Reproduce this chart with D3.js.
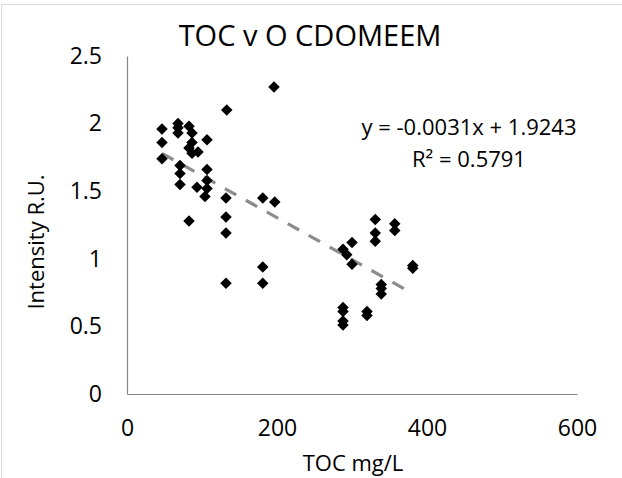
<!DOCTYPE html>
<html><head><meta charset="utf-8">
<script src="https://cdn.jsdelivr.net/npm/d3@7"></script>
<style>body{margin:0;background:#fff}svg{display:block}text{font-family:"Open Sans",sans-serif;fill:#000}</style>
</head><body><svg id="c" width="622" height="478"></svg>
<script>
const tocValues = [46.7,46.7,46.7,68,68,68,82.7,86.7,86.7,82.7,86.7,94.7,106.7,70.7,70.7,70.7,93.3,106.7,106.7,106.7,104,132,133,82.7,132,132,132,181,197,196,181,181,
  331,331,331,357,357,288,300,293,300,381,381,339,339,339,288,288,288,288,320,320];
const intensityValues = [1.96,1.86,1.74,2.00,1.97,1.93,1.98,1.93,1.86,1.82,1.78,1.79,1.88,1.69,1.63,1.55,1.53,1.66,1.58,1.52,1.46,1.45,2.10,1.28,1.31,1.19,0.82,1.45,1.42,2.27,0.94,0.82,
  1.29,1.19,1.13,1.26,1.21,1.07,1.12,1.03,0.96,0.95,0.93,0.81,0.78,0.74,0.64,0.61,0.54,0.51,0.61,0.58];
const xTicks = [0,200,400,600];
const yTicks = [0,0.5,1,1.5,2,2.5];
const trendSlope = -0.0031, trendIntercept = 1.9243, rSquared = 0.5791;
const titleText = "TOC v O CDOMEEM", xTitle = "TOC mg/L", yTitle = "Intensity R.U.";

const svg = d3.select("#c");
// outer chart border
svg.append("path").attr("d","M1.5,478V4.5H622").attr("fill","none").attr("stroke","#d9d9d9");

const x = d3.scaleLinear().domain([0,600]).range([127,577]);
const y = d3.scaleLinear().domain([0,2.5]).range([394,56]);

const xa = svg.append("g").attr("transform","translate(0,394)")
  .call(d3.axisBottom(x).tickValues(xTicks).tickSize(0).tickPadding(26).tickFormat(d3.format("d")));
xa.select(".domain").attr("stroke","#868686").attr("stroke-width",1.2);
xa.selectAll("text").attr("font-size",23).attr("font-family","Open Sans").attr("fill","#000");

const ya = svg.append("g").attr("transform","translate(127,0)")
  .call(d3.axisLeft(y).tickValues(yTicks).tickSize(0).tickPadding(25).tickFormat(d=>String(d)));
ya.select(".domain").attr("stroke","#868686").attr("stroke-width",1.2);
ya.selectAll("text").attr("font-size",23).attr("font-family","Open Sans").attr("fill","#000");

// trendline
const xmin = d3.min(tocValues), xmax = d3.max(tocValues);
svg.append("line")
  .attr("x1",x(xmin)).attr("y1",y(trendSlope*xmin+trendIntercept))
  .attr("x2",x(xmax)).attr("y2",y(trendSlope*xmax+trendIntercept))
  .attr("stroke","#8c8c8c").attr("stroke-width",3.2).attr("stroke-dasharray","13 11");

// points
const sym = d3.symbol(d3.symbolSquare, 66);
svg.append("g").selectAll("path").data(tocValues.map((v,i)=>[v,intensityValues[i]])).join("path")
  .attr("d",sym)
  .attr("transform",d=>`translate(${x(d[0])},${y(d[1])}) rotate(45)`)
  .attr("fill","#000");

svg.append("text").attr("x",310).attr("y",46).attr("text-anchor","middle").attr("font-size",29).text(titleText);
svg.append("text").attr("x",353).attr("y",471).attr("text-anchor","middle").attr("font-size",22).text(xTitle);
svg.append("text").attr("transform","translate(44,242) rotate(-90)").attr("text-anchor","middle").attr("font-size",22).text(yTitle);

svg.append("text").attr("x",469).attr("y",135).attr("text-anchor","middle").attr("font-size",22)
  .text(`y = ${trendSlope}x + ${trendIntercept}`);
svg.append("text").attr("x",469).attr("y",167).attr("text-anchor","middle").attr("font-size",22)
  .text(`R² = ${rSquared}`);
</script></body></html>
